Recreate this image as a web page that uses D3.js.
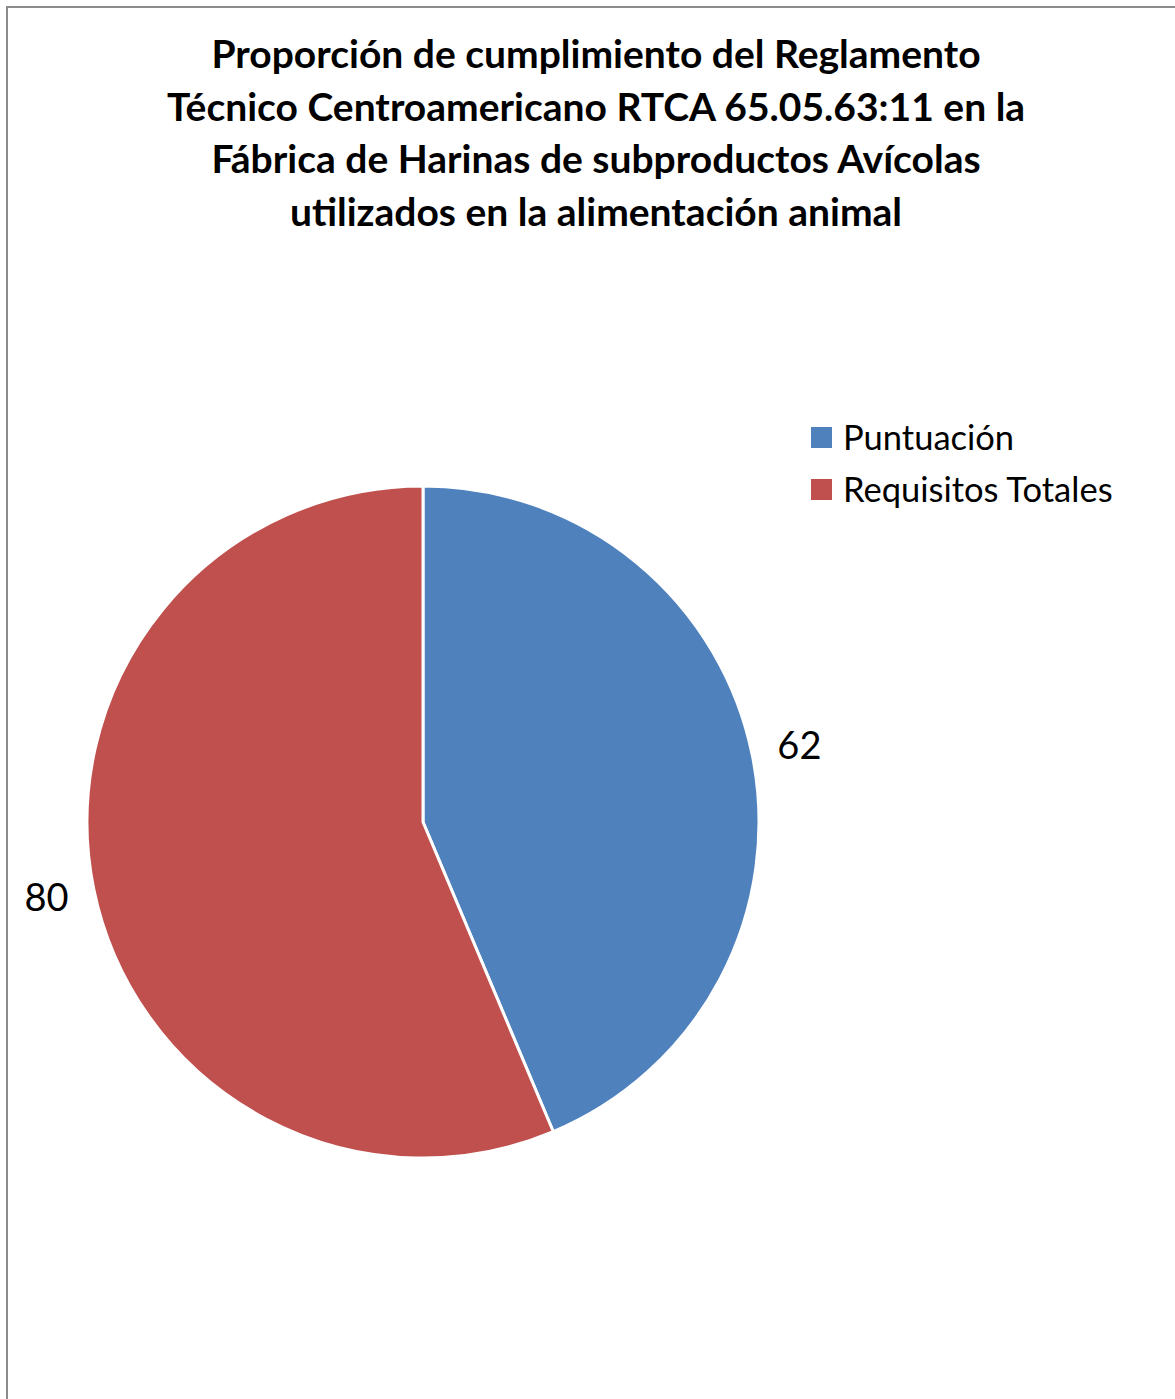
<!DOCTYPE html>
<html>
<head>
<meta charset="utf-8">
<script src="https://cdn.jsdelivr.net/npm/d3@7"></script>
<style>
  body { margin: 0; background: #fff; }
  text { font-family: Lato, "Noto Sans", sans-serif; }
</style>
</head>
<body>
<script>
const categories = ["Puntuación", "Requisitos Totales"];
const values = [62, 80];
const colors = ["#4F81BD", "#C0504D"];
const titleLines = [
  "Proporción de cumplimiento del Reglamento",
  "Técnico Centroamericano RTCA 65.05.63:11 en la",
  "Fábrica de Harinas de subproductos Avícolas",
  "utilizados en la alimentación animal"
];

const w = 1175;
const h = 1399;
const cx = 423;
const cy = 822;
const radius = 336;

const svg = d3.select("body")
  .append("svg")
  .attr("width", w)
  .attr("height", h);

// chart frame
svg.append("rect")
  .attr("x", 7)
  .attr("y", 7)
  .attr("width", w + 20)
  .attr("height", h + 20)
  .attr("fill", "none")
  .attr("stroke", "#8c8c8c")
  .attr("stroke-width", 2);

// title
svg.append("g")
  .selectAll("text")
  .data(titleLines)
  .enter()
  .append("text")
  .attr("x", 596)
  .attr("y", (d, i) => 68 + i * 52.5)
  .attr("text-anchor", "middle")
  .attr("font-size", 39)
  .attr("font-weight", "bold")
  .attr("fill", "#000")
  .text(d => d);

const data = categories.map((c, i) => ({ name: c, value: values[i], color: colors[i] }));

const pie = d3.pie()
  .sort(null)
  .value(d => d.value);

const arc = d3.arc()
  .innerRadius(0)
  .outerRadius(radius);

const labelArc = d3.arc()
  .innerRadius(384)
  .outerRadius(384);

const g = svg.append("g")
  .attr("transform", `translate(${cx}, ${cy})`);

g.selectAll("path")
  .data(pie(data))
  .enter()
  .append("path")
  .attr("d", arc)
  .attr("fill", d => d.data.color)
  .attr("stroke", "#fff")
  .attr("stroke-width", 3)
  .attr("stroke-linejoin", "round");

g.selectAll("text.label")
  .data(pie(data))
  .enter()
  .append("text")
  .attr("class", "label")
  .attr("transform", d => `translate(${labelArc.centroid(d)})`)
  .attr("text-anchor", "middle")
  .attr("dy", "0.35em")
  .attr("font-size", 38)
  .attr("fill", "#000")
  .text(d => d.data.value);

// legend
const legend = svg.append("g")
  .selectAll("g")
  .data(data)
  .enter()
  .append("g")
  .attr("transform", (d, i) => `translate(811, ${427 + i * 52})`);

legend.append("rect")
  .attr("width", 21)
  .attr("height", 21)
  .attr("fill", d => d.color);

legend.append("text")
  .attr("x", 32)
  .attr("y", 11)
  .attr("dy", "0.35em")
  .attr("font-size", 34.5)
  .attr("fill", "#000")
  .text(d => d.name);
</script>
</body>
</html>
